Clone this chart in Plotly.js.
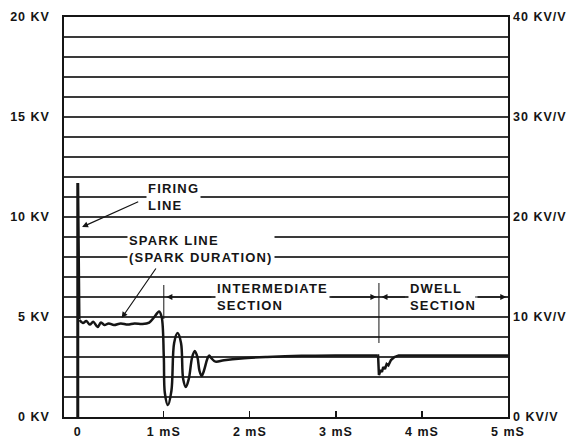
<!DOCTYPE html>
<html>
<head>
<meta charset="utf-8">
<script src="https://cdn.plot.ly/plotly-3.0.1.min.js"></script>
<style>html,body{margin:0;padding:0;background:#fff;}#chart{width:587px;height:442px;}</style>
</head>
<body>
<div id="chart"></div>
<script>
// ---- data (time in mS, voltage in KV) ----
const firingTime = [0, 0, 0.015];
const firingKV   = [0, 11.7, 4.9];

const sparkTime = [0.02, 0.06, 0.10, 0.14, 0.18, 0.23, 0.27, 0.31, 0.36, 0.42, 0.50, 0.58, 0.66, 0.75, 0.83, 0.89, 0.945, 0.975,
                   1.0, 1.012, 1.047, 1.088, 1.12, 1.16, 1.2, 1.225, 1.256, 1.29, 1.33, 1.36, 1.39, 1.415, 1.44, 1.465, 1.505, 1.527, 1.55,
                   1.6, 1.7, 1.9, 2.2, 2.6, 3.0, 3.48];
const sparkKV   = [4.85, 4.7, 4.8, 4.62, 4.76, 4.5, 4.72, 4.6, 4.68, 4.6, 4.68, 4.62, 4.68, 4.65, 4.72, 5.0, 5.28, 5.0,
                   3.0, 1.2, 0.6, 1.3, 3.7, 4.2, 3.7, 1.9, 1.5, 1.9, 3.0, 3.3, 3.0, 2.3, 2.05, 2.3, 2.9, 3.08, 2.95,
                   2.77, 2.84, 2.93, 3.0, 3.06, 3.08, 3.08];

const dwellTime = [3.48, 3.49, 3.5, 3.52, 3.535, 3.55, 3.57, 3.59, 3.61, 3.64, 3.68, 3.73, 5.0];
const dwellKV   = [3.08, 3.08, 2.1, 2.35, 2.25, 2.5, 2.4, 2.65, 2.58, 2.85, 3.0, 3.08, 3.08];

const sectionBounds = [1.0, 3.5];

const xTickVals   = [0, 1, 2, 3, 4, 5];
const xTickLabels = ['0', '1 mS', '2 mS', '3 mS', '4 mS', '5 mS'];
const yTickVals   = [0, 5, 10, 15, 20];
const yTickLabels = ['0 KV', '5 KV', '10 KV', '15 KV', '20 KV'];
const y2TickVals  = [0, 10, 20, 30, 40];
const y2TickLabels = ['0 KV/V', '10 KV/V', '20 KV/V', '30 KV/V', '40 KV/V'];

const sp = s => '<span style="letter-spacing:1px">' + s + '</span>';
const sp2 = s => '<span style="letter-spacing:1.2px">' + s + '</span>';

const FONT = 'Liberation Sans, Arial, sans-serif';
const INK = '#151515';

const traces = [
  {x: firingTime, y: firingKV, mode: 'lines', line: {color: INK, width: 3}, hoverinfo: 'skip', showlegend: false},
  {x: sparkTime, y: sparkKV, mode: 'lines', line: {color: INK, width: 2.5, shape: 'spline', smoothing: 1}, hoverinfo: 'skip', showlegend: false},
  {x: dwellTime, y: dwellKV, mode: 'lines', line: {color: INK, width: 2.5}, hoverinfo: 'skip', showlegend: false},
  {x: [null], y: [null], yaxis: 'y2', mode: 'lines', hoverinfo: 'skip', showlegend: false}
];

const txtFont = {family: FONT, size: 13, color: INK, weight: 'bold'};
const arrowBase = {axref: 'x', ayref: 'y', xref: 'x', yref: 'y', text: '', showarrow: true, arrowhead: 2, arrowsize: 1, arrowwidth: 1.2, arrowcolor: INK};
const labelBase = {xref: 'x', yref: 'y', showarrow: false, xanchor: 'left', yanchor: 'middle', align: 'left', bgcolor: 'white', borderpad: 1, font: txtFont};
const annotations = [
  Object.assign({x: 0.79, y: 11.0, text: sp2('FIRING') + '<br>' + sp2('LINE')}, labelBase),
  Object.assign({x: 0.05, y: 9.5, ax: 0.72, ay: 10.8}, arrowBase),
  Object.assign({x: 0.57, y: 8.4, text: sp2('SPARK LINE') + '<br>' + sp2('(SPARK DURATION)')}, labelBase),
  Object.assign({x: 0.51, y: 4.95, ax: 0.92, ay: 7.5}, arrowBase),
  Object.assign({x: 1.59, y: 6.0, text: sp2('INTERMEDIATE') + '<br>' + sp2('SECTION')}, labelBase),
  Object.assign({x: 3.84, y: 6.0, text: sp2('DWELL') + '<br>' + sp2('SECTION')}, labelBase),
  Object.assign({x: sectionBounds[0] + 0.03, y: 6.0, ax: 1.57, ay: 6.0}, arrowBase),
  Object.assign({x: sectionBounds[1] - 0.03, y: 6.0, ax: 2.93, ay: 6.0}, arrowBase),
  Object.assign({x: sectionBounds[1] + 0.03, y: 6.0, ax: 3.82, ay: 6.0}, arrowBase),
  Object.assign({x: 4.98, y: 6.0, ax: 4.6, ay: 6.0}, arrowBase)
];

const shapes = [
  {type: 'line', xref: 'x', yref: 'y', x0: sectionBounds[0], x1: sectionBounds[0], y0: 4.9, y1: 6.6, line: {color: INK, width: 1}},
  {type: 'line', xref: 'x', yref: 'y', x0: sectionBounds[1], x1: sectionBounds[1], y0: 3.7, y1: 6.7, line: {color: INK, width: 1}}
];

const tickFont = {family: FONT, size: 12.5, color: INK, weight: 'bold'};
const GRID = '#3a3a3a';
const layout = {
  width: 587, height: 442,
  margin: {l: 64, r: 79, t: 17, b: 25, pad: 0},
  paper_bgcolor: 'white', plot_bgcolor: 'white',
  showlegend: false,
  xaxis: {
    range: [-0.16, 5], tickvals: xTickVals, ticktext: xTickLabels.map(sp),
    ticks: 'inside', ticklen: 6, tickwidth: 1.2, tickcolor: INK,
    showgrid: false, zeroline: false, showline: true, mirror: true, linecolor: INK, linewidth: 1.6,
    tickfont: tickFont, ticklabelstandoff: 2, fixedrange: true
  },
  yaxis: {
    range: [0, 20], tickvals: yTickVals, ticktext: yTickLabels.map(sp),
    ticks: '', showgrid: true, gridcolor: GRID, gridwidth: 1.8,
    minor: {dtick: 1, tick0: 0, showgrid: true, gridcolor: GRID, gridwidth: 1.8, ticks: ''},
    zeroline: false, showline: true, mirror: true, linecolor: INK, linewidth: 1.6,
    tickfont: tickFont, ticklabelstandoff: 10, fixedrange: true
  },
  yaxis2: {
    range: [0, 40], overlaying: 'y', side: 'right', tickvals: y2TickVals, ticktext: y2TickLabels.map(sp),
    ticks: '', showgrid: false, zeroline: false, showline: false,
    tickfont: tickFont, ticklabelstandoff: 4, fixedrange: true
  },
  annotations: annotations,
  shapes: shapes
};

Plotly.newPlot('chart', traces, layout, {displayModeBar: false, staticPlot: true});
</script>
</body>
</html>
